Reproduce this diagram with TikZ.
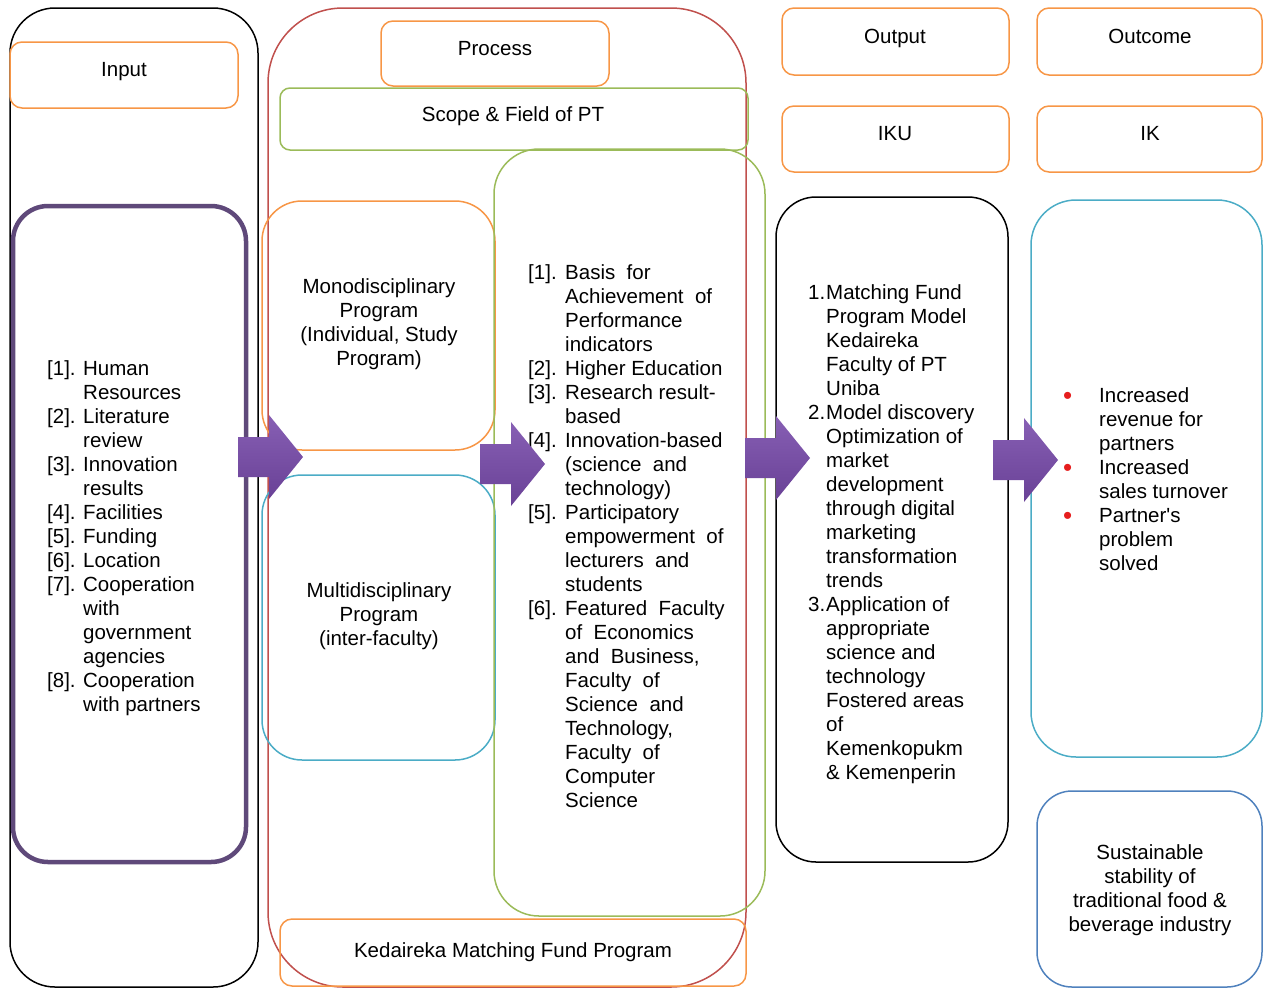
\documentclass[tikz,border=0pt]{standalone}
\usepackage{fontspec}
\setmainfont{Liberation Sans}[Ligatures=TeXOff]
\usetikzlibrary{positioning}
\definecolor{boxorange}{RGB}{247,150,70}
\definecolor{boxred}{RGB}{192,80,77}
\definecolor{boxgreen}{RGB}{155,187,89}
\definecolor{boxaqua}{RGB}{75,172,198}
\definecolor{boxblue}{RGB}{79,129,189}
\definecolor{boxpurple}{RGB}{95,73,122}
\definecolor{arrowtop}{RGB}{135,95,180}
\definecolor{arrowbottom}{RGB}{105,65,150}
\definecolor{bulletred}{RGB}{230,30,30}
\tikzset{
  txt/.style={font=\fontsize{20.5}{24}\selectfont, inner sep=0pt},
  labeltxt/.style={txt, text height=14.5pt, text depth=0pt},
  labelbox/.style={draw=boxorange, line width=1.5pt, rounded corners=12pt},
  blackbox/.style={draw=black, line width=1.5pt},
  arrowshade/.style={top color=arrowtop, bottom color=arrowbottom}
}
\newcommand{\purplearrow}[1]{\shade[arrowshade] (#1) ++(0,-20) -- ++(31,0) -- ++(0,-22) -- ++(34,42) -- ++(-34,42) -- ++(0,-22) -- ++(-31,0) -- cycle;}
\newcommand{\redbullet}{\textcolor{bulletred}{\fontsize{26}{24}\selectfont\raisebox{-2pt}{•}}}
\begin{document}
\begin{tikzpicture}[x=1pt,y=-1pt]
\useasboundingbox (0,0) rectangle (1263,988);

% Input
\draw[blackbox, rounded corners=45pt] (10,8) rectangle (258,987);
\draw[labelbox] (10,42) rectangle (238,108);
\node[labeltxt] (input) at (124,69) {Input};
\draw[draw=boxpurple, line width=4.5pt, rounded corners=35pt] (13,206) rectangle (246,862);
\node[txt, anchor=base west] (inputlist) at (47,375) {\begin{tabular}[t]{@{}p{36pt}@{}l@{}}
{[1].} & Human\\ & Resources\\
{[2].} & Literature\\ & review\\
{[3].} & Innovation\\ & results\\
{[4].} & Facilities\\
{[5].} & Funding\\
{[6].} & Location\\
{[7].} & Cooperation\\ & with\\ & government\\ & agencies\\
{[8].} & Cooperation\\ & with partners
\end{tabular}};

% Process
\draw[draw=boxred, line width=1.5pt, rounded corners=75pt] (268,8) rectangle (746,987);
\draw[labelbox] (381,21) rectangle (609,86);
\node[labeltxt] (process) at (495,48) {Process};
\draw[draw=boxgreen, line width=1.5pt, rounded corners=10pt] (280,88) rectangle (748,150);
\node[labeltxt] (scope) at (513,114) {Scope \& Field of PT};
\draw[draw=boxorange, line width=1.5pt, rounded corners=40pt] (262,201) rectangle (495,450);
\node[txt, align=center] (mono) at (379,324) {Monodisciplinary\\Program\\(Individual, Study\\Program)};
\draw[draw=boxaqua, line width=1.5pt, rounded corners=40pt] (262,475) rectangle (495,760);
\node[txt, align=center] (multi) at (379,616) {Multidisciplinary\\Program\\(inter-faculty)};
\draw[draw=boxgreen, line width=1.5pt, rounded corners=45pt] (494,149) rectangle (765,916);
\node[txt, anchor=base west] (processlist) at (528,279) {\begin{tabular}[t]{@{}p{37pt}@{}l@{}}
{[1].} & Basis\ \ for\\ & Achievement\ \ of\\ & Performance\\ & indicators\\
{[2].} & Higher\ Education\\
{[3].} & Research\ result-\\ & based\\
{[4].} & Innovation-based\\ & (science\ \ and\\ & technology)\\
{[5].} & Participatory\\ & empowerment\ \ of\\ & lecturers\ \ and\\ & students\\
{[6].} & Featured\ \ Faculty\\ & of\ \ Economics\\ & and\ \ Business,\\ & Faculty\ \ of\\ & Science\ \ and\\ & Technology,\\ & Faculty\ \ of\\ & Computer\\ & Science
\end{tabular}};
\draw[labelbox] (280,919) rectangle (746,986);
\node[labeltxt] (kedaireka) at (513,950) {Kedaireka Matching Fund Program};

% Output
\draw[labelbox] (782,8) rectangle (1009,75);
\node[labeltxt] (output) at (895,36) {Output};
\draw[labelbox] (782,106) rectangle (1009,172);
\node[labeltxt] (iku) at (895,133) {IKU};
\draw[blackbox, rounded corners=40pt] (776,197) rectangle (1008,862);
\node[txt, anchor=base west] (outputlist) at (808,299) {\begin{tabular}[t]{@{}p{18pt}@{}l@{}}
1. & Matching Fund\\ & Program Model\\ & Kedaireka\\ & Faculty of PT\\ & Uniba\\
2. & Model discovery\\ & Optimization of\\ & market\\ & development\\ & through digital\\ & marketing\\ & transformation\\ & trends\\
3. & Application of\\ & appropriate\\ & science and\\ & technology\\ & Fostered areas\\ & of\\ & Kemenkopukm\\ & \& Kemenperin
\end{tabular}};

% Outcome
\draw[labelbox] (1037,8) rectangle (1262,75);
\node[labeltxt] (outcome) at (1150,36) {Outcome};
\draw[labelbox] (1037,106) rectangle (1262,172);
\node[labeltxt] (ik) at (1150,133) {IK};
\draw[draw=boxaqua, line width=1.5pt, rounded corners=45pt] (1031,200) rectangle (1262,757);
\node[txt, anchor=base west] (outcomelist) at (1063,402) {\begin{tabular}[t]{@{}p{36pt}@{}l@{}}
\redbullet & Increased\\ & revenue for\\ & partners\\
\redbullet & Increased\\ & sales turnover\\
\redbullet & Partner's\\ & problem\\ & solved
\end{tabular}};
\draw[draw=boxblue, line width=1.5pt, rounded corners=35pt] (1037,791) rectangle (1262,987);
\node[txt, align=center] (sustain) at (1150,890) {Sustainable\\stability of\\traditional food \&\\beverage industry};

% arrows between the columns
\coordinate (arrowA) at (238,457);
\coordinate (arrowB) at (480,464);
\coordinate (arrowC) at (745,458);
\coordinate (arrowD) at (993,460);
\purplearrow{arrowA}
\purplearrow{arrowB}
\purplearrow{arrowC}
\purplearrow{arrowD}
\end{tikzpicture}
\end{document}
